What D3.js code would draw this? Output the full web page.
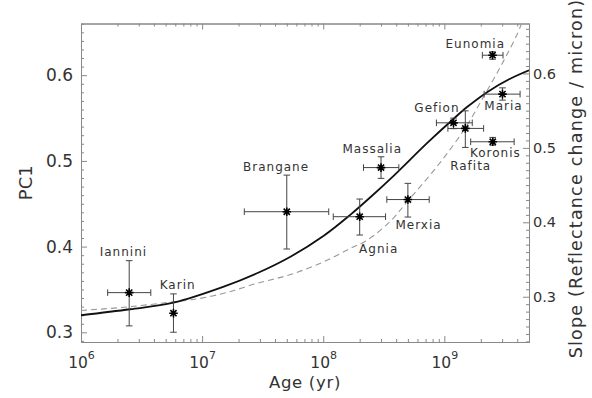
<!DOCTYPE html>
<html><head><meta charset="utf-8">
<script src="https://cdn.jsdelivr.net/npm/d3@7"></script>
<style>
html,body{margin:0;padding:0;background:#fff;}
svg{display:block;}
text{font-family:"DejaVu Sans",sans-serif;fill:#333;}
</style></head>
<body>
<svg id="chart" width="592" height="398"></svg>
<script>
// ---- data ----
const names   = ["Iannini","Karin","Brangane","Agnia","Massalia","Merxia","Gefion","Rafita","Koronis","Maria","Eunomia"];
const ages    = [2.5e6, 5.8e6, 5.0e7, 2.0e8, 3.0e8, 5.0e8, 1.19e9, 1.49e9, 2.51e9, 3.02e9, 2.5e9];
const ageLo   = [1.66e6, null, 2.23e7, 1.21e8, 2.15e8, 3.35e8, 8.6e8, 1.07e9, 1.65e9, 2.13e9, 2.06e9];
const ageHi   = [3.77e6, null, 1.11e8, 3.27e8, 4.21e8, 7.5e8, 1.70e9, 2.11e9, 3.77e9, 4.22e9, 3.05e9];
const pc1     = [0.3463, 0.3223, 0.4407, 0.4349, 0.4922, 0.4549, 0.5444, 0.5379, 0.5223, 0.5779, 0.6233];
const pc1Lo   = [0.3075, 0.3001, 0.3972, 0.4135, 0.4796, 0.4345, 0.5376, 0.5157, 0.5184, 0.5709, 0.6186];
const pc1Hi   = [0.3836, 0.3448, 0.4834, 0.4555, 0.5048, 0.4738, 0.5499, 0.5584, 0.5274, 0.5852, 0.6272];
// label anchors in data coordinates [age, PC1]
const labelAge = [2.24e6, 6.28e6, 4.08e7, 2.87e8, 2.54e8, 6.12e8, 8.69e8, 1.65e9, 2.64e9, 3.08e9, 1.80e9];
const labelPC1 = [0.3890, 0.3502, 0.4885, 0.3920, 0.5087, 0.4202, 0.5572, 0.4893, 0.5048, 0.5592, 0.6318];
// PC1 model curve (left axis)
const pcCurveAge = [1e6, 2.54e6, 5.8e6, 1.51e7, 2.84e7, 5.36e7, 1.01e8, 1.68e8, 2.45e8, 3.83e8, 7.23e8, 1.20e9, 1.55e9, 2.27e9, 3.53e9, 5.0e9];
const pcCurveVal = [0.3199, 0.3269, 0.3346, 0.3533, 0.3689, 0.3882, 0.4127, 0.4373, 0.4576, 0.4829, 0.5210, 0.5495, 0.5631, 0.5805, 0.5962, 0.6058];
// slope model curve (right axis)
const slCurveAge = [1e6, 2.54e6, 5.8e6, 7.98e6, 1.51e7, 2.84e7, 5.36e7, 1.01e8, 1.68e8, 2.31e8, 3.6e8, 4.94e8, 8.75e8, 1.48e9, 2.19e9, 3.11e9, 4.28e9, 4.6e9];
const slCurveVal = [0.2815, 0.2866, 0.2933, 0.2956, 0.3046, 0.3180, 0.3298, 0.3470, 0.3650, 0.3761, 0.4017, 0.4278, 0.4755, 0.5261, 0.5735, 0.6179, 0.6648, 0.690];
const xMajor = [1e6, 1e7, 1e8, 1e9];
const xMajorExp = ["6", "7", "8", "9"];
const yLeftTicks = [0.3, 0.4, 0.5, 0.6];
const yRightTicks = [0.3, 0.4, 0.5, 0.6];

// ---- layout ----
const L = 81, R = 529, T = 23.5, B = 342;
const svg = d3.select("#chart");
svg.append("rect").attr("width", 592).attr("height", 398).attr("fill", "#fff");

const x = d3.scaleLog().domain([1e6, 5e9]).range([L, R]);
const yL = d3.scaleLinear().domain([0.2887, 0.6603]).range([B, T]);
const yR = d3.scaleLinear().domain([0.2392, 0.6671]).range([B, T]);

const axisColor = "#888";
function styleAxis(g) {
  g.selectAll("path.domain").attr("stroke", axisColor).attr("stroke-width", 1);
  g.selectAll(".tick line").attr("stroke", axisColor).attr("stroke-width", 1);
}

// minor tick values
const xMinor = [];
xMajor.forEach(d => { for (let m = 2; m <= 9; m++) { const v = d * m; if (v <= 5e9) xMinor.push(v); } });
const yLMinor = d3.range(29, 67).map(i => i / 100).filter(v => !yLeftTicks.some(t => Math.abs(t - v) < 1e-9));
const yRMinor = d3.range(24, 67).map(i => i / 100).filter(v => !yRightTicks.some(t => Math.abs(t - v) < 1e-9));

// bottom
const gB = svg.append("g").attr("transform", `translate(0,${B})`)
  .call(d3.axisBottom(x).tickValues(xMajor).tickSizeInner(-6).tickSizeOuter(0).tickFormat(""));
styleAxis(gB);
const gBm = svg.append("g").attr("transform", `translate(0,${B})`)
  .call(d3.axisBottom(x).tickValues(xMinor).tickSizeInner(-3).tickSizeOuter(0).tickFormat(""));
styleAxis(gBm);
gB.selectAll(".tick").each(function(d, i) {
  const t = d3.select(this).append("text")
    .attr("y", 25.5).attr("text-anchor", "middle")
    .style("font-size", "15.5px").attr("fill", "#333");
  t.append("tspan").text("10");
  t.append("tspan").attr("dy", -8.5).style("font-size", "11px").text(xMajorExp[i]);
});

// top
const gT = svg.append("g").attr("transform", `translate(0,${T})`)
  .call(d3.axisTop(x).tickValues(xMajor).tickSizeInner(-6).tickSizeOuter(0).tickFormat(""));
styleAxis(gT);
const gTm = svg.append("g").attr("transform", `translate(0,${T})`)
  .call(d3.axisTop(x).tickValues(xMinor).tickSizeInner(-3).tickSizeOuter(0).tickFormat(""));
styleAxis(gTm);

// left
const gL = svg.append("g").attr("transform", `translate(${L},0)`)
  .call(d3.axisLeft(yL).tickValues(yLeftTicks).tickSizeInner(-6).tickSizeOuter(0).tickPadding(8).tickFormat(d3.format(".1f")));
styleAxis(gL);
gL.selectAll(".tick text").style("font-size", "17px").attr("fill", "#333").style("font-family", "DejaVu Sans");
const gLm = svg.append("g").attr("transform", `translate(${L},0)`)
  .call(d3.axisLeft(yL).tickValues(yLMinor).tickSizeInner(-3).tickSizeOuter(0).tickFormat(""));
styleAxis(gLm);

// right
const gR = svg.append("g").attr("transform", `translate(${R},0)`)
  .call(d3.axisRight(yR).tickValues(yRightTicks).tickSizeInner(-6).tickSizeOuter(0).tickPadding(4).tickFormat(d3.format(".1f")));
styleAxis(gR);
gR.selectAll(".tick text").style("font-size", "14.5px").attr("fill", "#333").style("font-family", "DejaVu Sans");
const gRm = svg.append("g").attr("transform", `translate(${R},0)`)
  .call(d3.axisRight(yR).tickValues(yRMinor).tickSizeInner(-3).tickSizeOuter(0).tickFormat(""));
styleAxis(gRm);

// axis titles
svg.append("text").attr("x", 305).attr("y", 387.5).attr("text-anchor", "middle")
  .style("font-size", "16.5px").style("letter-spacing", "0.7px").text("Age (yr)");
svg.append("text").attr("transform", `translate(31.5,${(T + B) / 2}) rotate(-90)`).attr("text-anchor", "middle")
  .style("font-size", "18px").text("PC1");
svg.append("text").attr("transform", `translate(582,178.5) rotate(-90)`).attr("text-anchor", "middle")
  .style("font-size", "17.5px").style("letter-spacing", "1.2px").text("Slope (Reflectance change / micron)");

// clip
svg.append("clipPath").attr("id", "plotclip").append("rect")
  .attr("x", L).attr("y", T).attr("width", R - L).attr("height", B - T);
const plot = svg.append("g").attr("clip-path", "url(#plotclip)");

// curves
const slData = slCurveAge.map((a, i) => [a, slCurveVal[i]]);
plot.append("path").datum(slData)
  .attr("d", d3.line().x(d => x(d[0])).y(d => yR(d[1])).curve(d3.curveCatmullRom.alpha(0.5)))
  .attr("fill", "none").attr("stroke", "#999").attr("stroke-width", 1.1).attr("stroke-dasharray", "6,4");
const pcData = pcCurveAge.map((a, i) => [a, pcCurveVal[i]]);
plot.append("path").datum(pcData)
  .attr("d", d3.line().x(d => x(d[0])).y(d => yL(d[1])).curve(d3.curveCatmullRom.alpha(0.5)))
  .attr("fill", "none").attr("stroke", "#111").attr("stroke-width", 1.8);

// error bars & points
const pts = names.map((n, i) => ({ n, a: ages[i], lo: ageLo[i], hi: ageHi[i], v: pc1[i], vlo: pc1Lo[i], vhi: pc1Hi[i] }));
const eb = svg.append("g").attr("stroke", "#444").attr("stroke-width", 1).attr("fill", "none");
const cap = 3.3;
pts.forEach(p => {
  const cx = x(p.a), cy = yL(p.v);
  const y1 = yL(p.vhi), y2 = yL(p.vlo);
  eb.append("line").attr("x1", cx).attr("x2", cx).attr("y1", y1).attr("y2", y2);
  eb.append("line").attr("x1", cx - cap).attr("x2", cx + cap).attr("y1", y1).attr("y2", y1);
  eb.append("line").attr("x1", cx - cap).attr("x2", cx + cap).attr("y1", y2).attr("y2", y2);
  if (p.lo != null) {
    const x1 = x(p.lo), x2 = x(p.hi);
    eb.append("line").attr("x1", x1).attr("x2", x2).attr("y1", cy).attr("y2", cy);
    eb.append("line").attr("x1", x1).attr("x2", x1).attr("y1", cy - cap).attr("y2", cy + cap);
    eb.append("line").attr("x1", x2).attr("x2", x2).attr("y1", cy - cap).attr("y2", cy + cap);
  }
});
const star = svg.append("g").attr("stroke", "#000").attr("stroke-width", 1.6).attr("fill", "none");
const r = 4.3;
pts.forEach(p => {
  const cx = x(p.a), cy = yL(p.v);
  const d = `M${cx},${cy - r}L${cx},${cy + r}` +
            `M${cx - r},${cy}L${cx + r},${cy}` +
            `M${cx - r * 0.72},${cy - r * 0.72}L${cx + r * 0.72},${cy + r * 0.72}` +
            `M${cx - r * 0.72},${cy + r * 0.72}L${cx + r * 0.72},${cy - r * 0.72}`;
  star.append("path").attr("d", d);
});

// labels
svg.append("g").selectAll("text").data(names).join("text")
  .attr("x", (d, i) => x(labelAge[i])).attr("y", (d, i) => yL(labelPC1[i]))
  .attr("text-anchor", "middle").style("font-size", "12px").style("letter-spacing", "1px")
  .text(d => d);
</script>
</body></html>
